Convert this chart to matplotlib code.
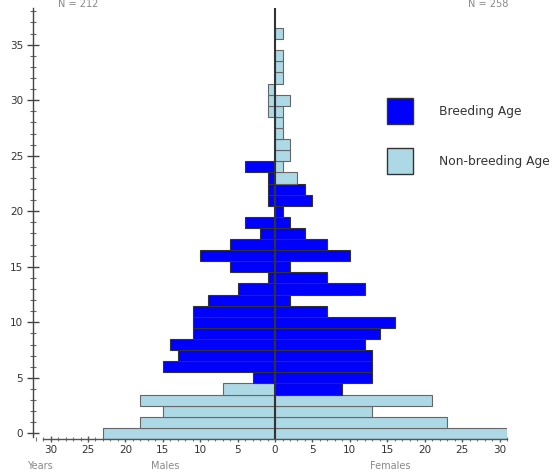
import matplotlib
matplotlib.use("Agg")
import matplotlib.pyplot as plt
from matplotlib.patches import Rectangle
from matplotlib.ticker import MultipleLocator, FuncFormatter

# ---- data ----
ages = list(range(0, 37))
male_counts = [23, 18, 15, 18, 7, 3, 15, 13, 14, 11, 11, 11, 9, 5, 1, 6, 10, 6, 2, 4,
               0, 1, 1, 1, 4, 0, 0, 0, 0, 1, 1, 1, 0, 0, 0, 0, 0]
female_counts = [31, 23, 13, 21, 9, 13, 13, 13, 12, 14, 16, 7, 2, 12, 7, 2, 10, 7, 4, 2,
                 1, 5, 4, 3, 1, 2, 2, 1, 1, 1, 2, 0, 1, 1, 1, 0, 1]
male_breeding = (5, 24)     # inclusive age range
female_breeding = (4, 22)
legend_labels = ["Breeding Age", "Non-breeding Age"]
n_male_label = "N = 212"
n_female_label = "N = 258"

BLUE = "#0000FF"
LIGHT = "#ADD8E6"

W, H = 559, 475
fig = plt.figure(figsize=(W / 100, H / 100), dpi=100)

def fx(px):
    return px / W

def fy(py):
    return 1 - py / H

left_px, right_px = 33, 507
top_px, bottom_px = 8, 439
ax = fig.add_axes([fx(left_px), fy(bottom_px), (right_px - left_px) / W, (bottom_px - top_px) / H])

def colors_for(rng):
    return [BLUE if rng[0] <= a <= rng[1] else LIGHT for a in ages]

mc = colors_for(male_breeding)
fc = colors_for(female_breeding)

for a, v, c in zip(ages, male_counts, mc):
    if v > 0:
        ax.barh(a, -v, height=1, color=c,
                edgecolor="#333333" if c == BLUE else "#666666", linewidth=0.8, zorder=2)
for a, v, c in zip(ages, female_counts, fc):
    if v > 0:
        ax.barh(a, v, height=1, color=c,
                edgecolor="#333333" if c == BLUE else "#666666", linewidth=0.8, zorder=2)

ax.axvline(0, color="#333333", linewidth=1.5, zorder=3)

ax.set_xlim(-32.35, 31.0)
ax.set_ylim(-0.5, 38.3)

for s in ["top", "right"]:
    ax.spines[s].set_visible(False)
ax.spines["bottom"].set_bounds(-31, 31)
ax.spines["left"].set_bounds(-0.3, 38.3)
ax.spines["bottom"].set_color("#555555")
ax.spines["left"].set_color("#444444")
ax.spines["bottom"].set_linewidth(1)
ax.spines["left"].set_linewidth(1)

ax.xaxis.set_major_locator(MultipleLocator(5))
ax.xaxis.set_minor_locator(MultipleLocator(1))
ax.yaxis.set_major_locator(MultipleLocator(5))
ax.yaxis.set_minor_locator(MultipleLocator(1))
ax.xaxis.set_major_formatter(FuncFormatter(lambda v, p: f"{abs(int(round(v)))}"))
ax.tick_params(axis="x", which="major", direction="inout", length=5, width=1, color="#555555",
               labelsize=7.5, labelcolor="#333333", pad=1.5)
ax.tick_params(axis="x", which="minor", direction="inout", length=3, width=0.8, color="#777777")
ax.tick_params(axis="y", which="major", direction="inout", length=8, width=1, color="#444444",
               labelsize=7.5, labelcolor="#333333", pad=3)
ax.tick_params(axis="y", which="minor", direction="inout", length=4, width=0.8, color="#666666")
ax.set_xticks([t for t in range(-30, 31, 5)])
ax.set_yticks(list(range(0, 36, 5)))

# axis captions
fig.text(fx(40), fy(466), "Years", ha="center", va="center", fontsize=7, color="#888888")
fig.text(fx(165), fy(466), "Males", ha="center", va="center", fontsize=7, color="#888888")
fig.text(fx(390), fy(466), "Females", ha="center", va="center", fontsize=7, color="#888888")
fig.text(fx(78), fy(4), n_male_label, ha="center", va="center", fontsize=7, color="#888888")
fig.text(fx(488), fy(4), n_female_label, ha="center", va="center", fontsize=7, color="#888888")

# legend
for i, (lab, col) in enumerate(zip(legend_labels, [BLUE, LIGHT])):
    y0 = 98 + i * 50
    fig.patches.append(Rectangle((fx(387), fy(y0 + 26)), 26 / W, 26 / H, transform=fig.transFigure,
                                 facecolor=col, edgecolor="#333333", linewidth=1))
    fig.text(fx(439), fy(y0 + 13), lab, ha="left", va="center", fontsize=8.8, color="#333333")

fig.savefig("out.png", dpi=100)
